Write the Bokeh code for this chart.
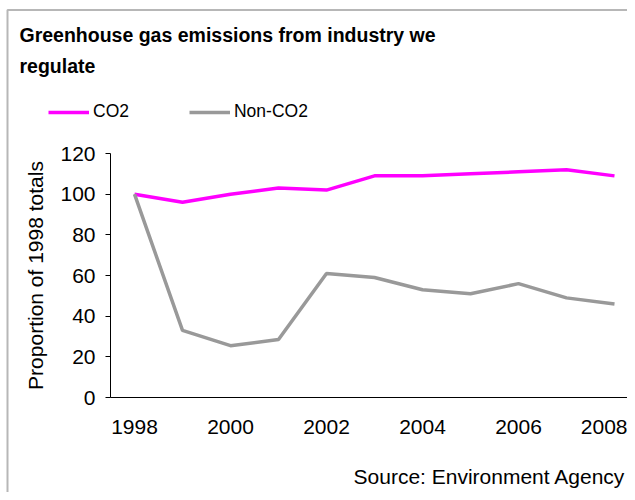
from bokeh.plotting import figure
from bokeh.models import Range1d, Label, Legend, LegendItem, FixedTicker, ColumnDataSource, BoxAnnotation
from bokeh.embed import file_html
from bokeh.resources import INLINE

years = [1998, 1999, 2000, 2001, 2002, 2003, 2004, 2005, 2006, 2007, 2008]
co2 = [100, 96, 100, 103, 102, 109, 109, 110, 111, 112, 109]
non_co2 = [100, 33, 25.5, 28.5, 61, 59, 53, 51, 56, 49, 46]
x_ticks = [1998, 2000, 2002, 2004, 2006, 2008]
y_ticks = [0, 20, 40, 60, 80, 100, 120]

FONT = "Liberation Sans"
W, H = 627, 492
# plot area in canvas pixels
FL, FT, FB = 110, 153, 397
PX_YEAR = 48.0
x0 = years[0] - 0.5
px_unit = (FB - FT) / 120.0

p = figure(width=W, height=H, output_backend="svg", toolbar_location=None,
           x_range=Range1d(x0 - FL / PX_YEAR, x0 + (W - FL) / PX_YEAR),
           y_range=Range1d(-(H - FB) / px_unit, 120 + FT / px_unit),
           min_border=0)
p.outline_line_color = None
p.xgrid.grid_line_color = None
p.ygrid.grid_line_color = None
p.background_fill_color = "white"
p.border_fill_color = "white"

src = ColumnDataSource(dict(year=years, co2=co2, non=non_co2))
r1 = p.line("year", "co2", source=src, line_color="#FF00FF", line_width=3.5)
r2 = p.line("year", "non", source=src, line_color="#999999", line_width=3.5)

# axes
p.xaxis.fixed_location = 0
p.xaxis.bounds = (x0, x0 + (W - FL) / PX_YEAR)
p.xaxis.ticker = FixedTicker(ticks=x_ticks)
p.xaxis.major_tick_line_color = None
p.xaxis.minor_tick_line_color = None
p.xaxis.axis_line_color = "black"
p.xaxis.major_label_standoff = 16
p.xaxis.major_label_text_font = FONT
p.xaxis.major_label_text_font_size = "21px"
p.xaxis.major_label_text_color = "black"

p.yaxis.fixed_location = x0
p.yaxis.bounds = (0, 120)
p.yaxis.ticker = FixedTicker(ticks=y_ticks)
p.yaxis.major_tick_in = 0
p.yaxis.major_tick_out = 5
p.yaxis.minor_tick_line_color = None
p.yaxis.axis_line_color = "black"
p.yaxis.major_tick_line_color = "black"
p.yaxis.major_label_standoff = 10
p.yaxis.major_label_text_font = FONT
p.yaxis.major_label_text_font_size = "21px"
p.yaxis.major_label_text_color = "black"
p.yaxis.axis_label = "Proportion of 1998 totals"
p.yaxis.axis_label_text_font = FONT
p.yaxis.axis_label_text_font_size = "21px"
p.yaxis.axis_label_text_font_style = "normal"
p.yaxis.axis_label_text_color = "black"
p.yaxis.axis_label_standoff = 10

# outer box of the chart
p.add_layout(BoxAnnotation(left=7, right=W + 20, top=H - 9.5, bottom=-20,
                           left_units="screen", right_units="screen",
                           top_units="screen", bottom_units="screen",
                           fill_alpha=0, line_color="#111111", line_width=2))

# title lines (canvas-pixel coords from bottom-left)
for txt, yb in [("Greenhouse gas emissions from industry we", H - 34), ("regulate", H - 65)]:
    p.add_layout(Label(x=19, y=yb, x_units="screen", y_units="screen", text=txt,
                       text_font=FONT, text_font_size="19.5px", text_font_style="bold",
                       text_color="black", text_baseline="alphabetic"))

p.add_layout(Label(x=W - 2, y=H - 476, x_units="screen", y_units="screen",
                   text="Source: Environment Agency", text_font=FONT, text_font_size="21px",
                   text_color="black", text_align="right", text_baseline="alphabetic"))

legend = Legend(items=[LegendItem(label="CO2", renderers=[r1]),
                       LegendItem(label="Non-CO2", renderers=[r2])],
                location=(48, H - 122), orientation="horizontal",
                glyph_width=41, glyph_height=20, label_height=20, label_standoff=4,
                spacing=60, padding=0, margin=0,
                border_line_color=None, background_fill_alpha=0,
                label_text_font=FONT, label_text_font_size="17.5px", label_text_color="black")
p.add_layout(legend, "center")

open("out.html", "w").write(file_html(p, INLINE))
